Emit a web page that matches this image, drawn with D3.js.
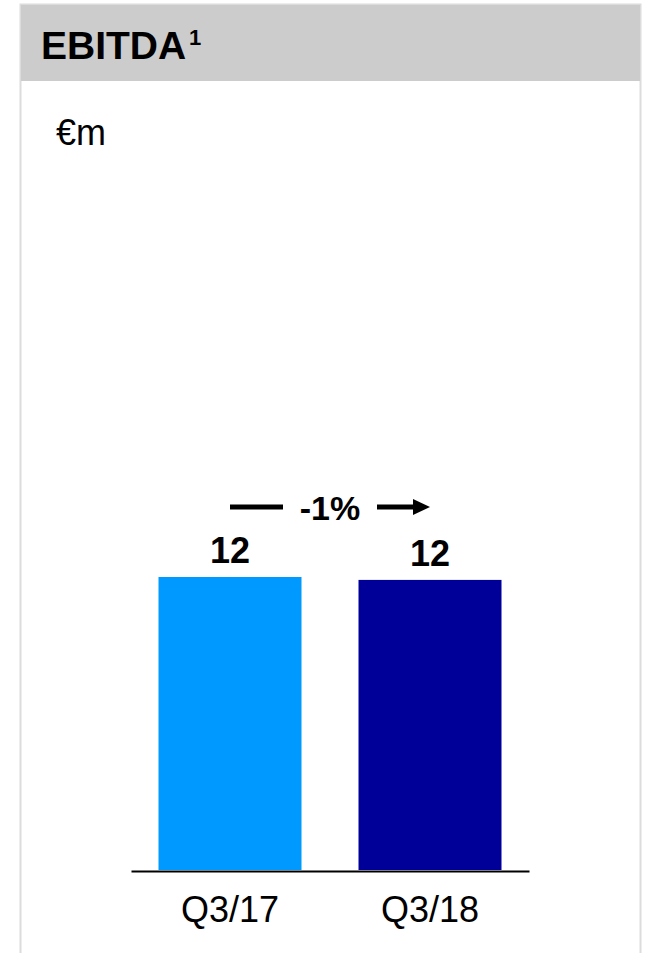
<!DOCTYPE html>
<html lang="en">
<head>
<meta charset="UTF-8" />
<title>EBITDA</title>
<script src="https://d3js.org/d3.v7.min.js"></script>
<style>
  body { margin: 0; background: #fff; }
  svg { display: block; font-family: Arial, "Liberation Sans", sans-serif; }
</style>
</head>
<body>
<div id="chart"></div>
<script>
const categories = ['Q3/17', 'Q3/18'];
const values = [12.1, 11.98];
const valueLabels = ['12', '12'];
const colors = ['#0099FF', '#000099'];
const changeLabel = '-1%';

const width = 646, height = 953;

const svg = d3.select("#chart").append("svg")
  .attr("width", width)
  .attr("height", height);

// panel frame + grey header
svg.append("rect")
  .attr("x", 20.5).attr("y", 4.5)
  .attr("width", 620).attr("height", 960)
  .attr("fill", "#fff")
  .attr("stroke", "#dcdcdc")
  .attr("stroke-width", 2);

svg.append("rect")
  .attr("x", 21).attr("y", 5)
  .attr("width", 619).attr("height", 76)
  .attr("fill", "#cccccc");

svg.append("text")
  .attr("x", 41).attr("y", 59)
  .attr("font-size", 39)
  .attr("font-weight", "bold")
  .text("EBITDA");

svg.append("text")
  .attr("x", 189).attr("y", 45)
  .attr("font-size", 22)
  .attr("font-weight", "bold")
  .text("1");

svg.append("text")
  .attr("x", 56).attr("y", 145)
  .attr("font-size", 36)
  .attr("fill", "#000")
  .text("€m");

// scales
const x = d3.scaleBand()
  .domain(categories)
  .range([131, 529])
  .paddingInner(0.285)
  .paddingOuter(0.1375);

const y = d3.scaleLinear()
  .domain([0, 12.1])
  .range([870, 577]);

svg.selectAll(".bar")
  .data(values)
  .enter().append("rect")
  .attr("class", "bar")
  .attr("x", (d, i) => x(categories[i]))
  .attr("y", d => y(d))
  .attr("width", x.bandwidth())
  .attr("height", d => y(0) - y(d))
  .attr("fill", (d, i) => colors[i]);

svg.selectAll(".val")
  .data(values)
  .enter().append("text")
  .attr("class", "val")
  .attr("x", (d, i) => x(categories[i]) + x.bandwidth() / 2)
  .attr("y", d => y(d) - 14)
  .attr("text-anchor", "middle")
  .attr("font-size", 36)
  .attr("font-weight", "bold")
  .text((d, i) => valueLabels[i]);

// baseline axis
const axis = svg.append("g")
  .attr("transform", `translate(0,${y(0) + 1})`)
  .call(d3.axisBottom(x).tickSize(0).tickPadding(25));
axis.select(".domain").attr("stroke", "#000").attr("stroke-width", 2);
axis.selectAll("text")
  .attr("font-size", 36)
  .attr("font-family", "Arial, 'Liberation Sans', sans-serif")
  .attr("fill", "#000");

// change arrow
const cx0 = x(categories[0]) + x.bandwidth() / 2;
const cx1 = x(categories[1]) + x.bandwidth() / 2;
const ay = 507;
const mid = (cx0 + cx1) / 2;

svg.append("line")
  .attr("x1", cx0).attr("x2", mid - 47)
  .attr("y1", ay).attr("y2", ay)
  .attr("stroke", "#000").attr("stroke-width", 5);
svg.append("line")
  .attr("x1", mid + 47).attr("x2", cx1 - 14)
  .attr("y1", ay).attr("y2", ay)
  .attr("stroke", "#000").attr("stroke-width", 5);
svg.append("path")
  .attr("d", `M${cx1},${ay} L${cx1 - 17},${ay - 8} L${cx1 - 17},${ay + 8} Z`)
  .attr("fill", "#000");

svg.append("text")
  .attr("x", mid).attr("y", 520)
  .attr("text-anchor", "middle")
  .attr("font-size", 34)
  .attr("font-weight", "bold")
  .text(changeLabel);
</script>
</body>
</html>
